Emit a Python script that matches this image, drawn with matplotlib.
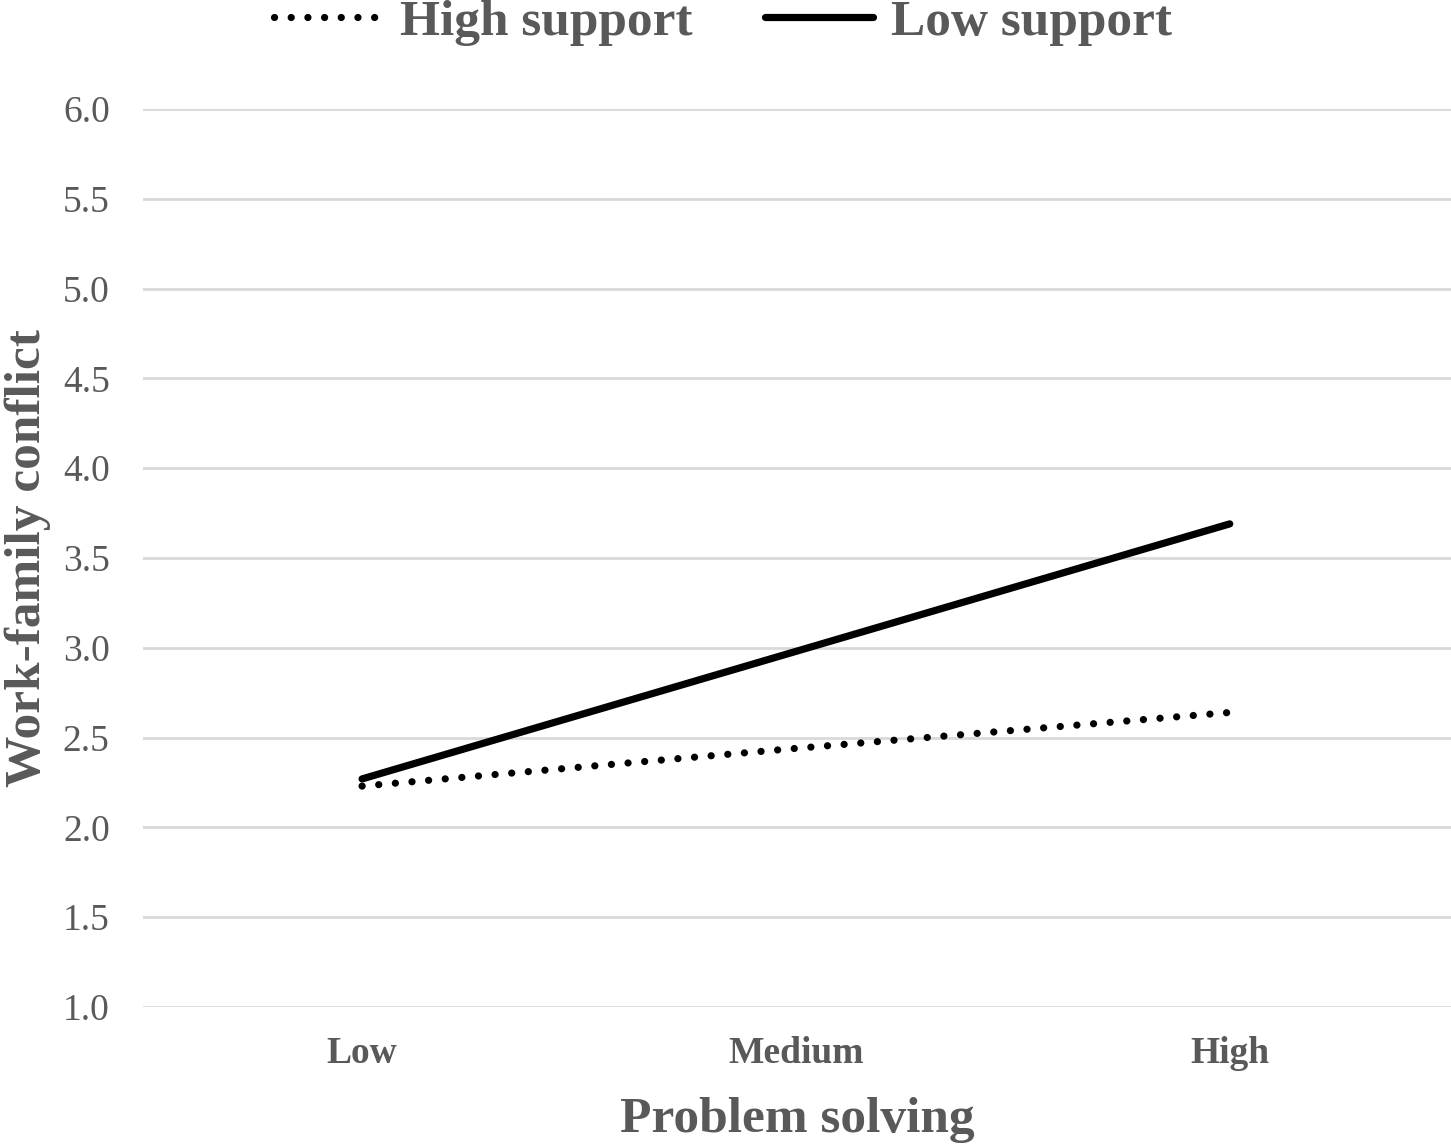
import matplotlib
matplotlib.use("Agg")
import matplotlib.pyplot as plt
from matplotlib.ticker import FormatStrFormatter

categories = ["Low", "Medium", "High"]
high_support = [2.23, 2.44, 2.64]
low_support = [2.27, 2.98, 3.69]
y_ticks = [1.0, 1.5, 2.0, 2.5, 3.0, 3.5, 4.0, 4.5, 5.0, 5.5, 6.0]

GRAY = "#595959"
plt.rcParams["font.family"] = ["Liberation Serif", "DejaVu Serif"]

W, H = 1451, 1147
fig = plt.figure(figsize=(W / 100, H / 100), dpi=100)
ax = fig.add_axes([143 / W, 1 - 1007 / H, (W - 143) / W, (1007 - 109) / H])

x = list(range(len(categories)))
ax.plot(x, high_support, color="black", lw=5.2, linestyle=(0, (0.01, 2.3)),
        dash_capstyle="round", solid_capstyle="round", label="High support", zorder=3)
ax.plot(x, low_support, color="black", lw=5.2, solid_capstyle="round",
        label="Low support", zorder=3)

ax.set_xlim(-0.505, 2.51)
ax.set_ylim(1.0, 6.0)
ax.set_yticks(y_ticks)
ax.yaxis.set_major_formatter(FormatStrFormatter("%.1f"))
ax.set_xticks(x)
ax.set_xticklabels(categories, fontweight="bold", fontsize=27, color=GRAY)
ax.tick_params(axis="y", labelsize=27, labelcolor=GRAY, length=0, pad=24)
ax.tick_params(axis="x", length=0, pad=21)
ax.grid(axis="y", color="#d9d9d9", lw=2.0)
ax.set_axisbelow(True)
for s in ax.spines.values():
    s.set_visible(False)

ax.set_xlabel("Problem solving", fontsize=37, fontweight="bold", color=GRAY)
ax.xaxis.set_label_coords(0.5, -0.1)
ax.set_ylabel("Work-family conflict", fontsize=37, fontweight="bold", color=GRAY)
ax.yaxis.set_label_coords(-0.0703, 0.5)

leg = fig.legend(loc="center", bbox_to_anchor=(723 / W, 1 - 23 / H), ncol=2, frameon=False,
                 prop={"family": ["Liberation Serif"], "weight": "bold", "size": 37},
                 handlelength=2.1, handletextpad=0.35, columnspacing=1.4)
for t in leg.get_texts():
    t.set_color(GRAY)

fig.savefig("out.png", dpi=100, facecolor="white")
